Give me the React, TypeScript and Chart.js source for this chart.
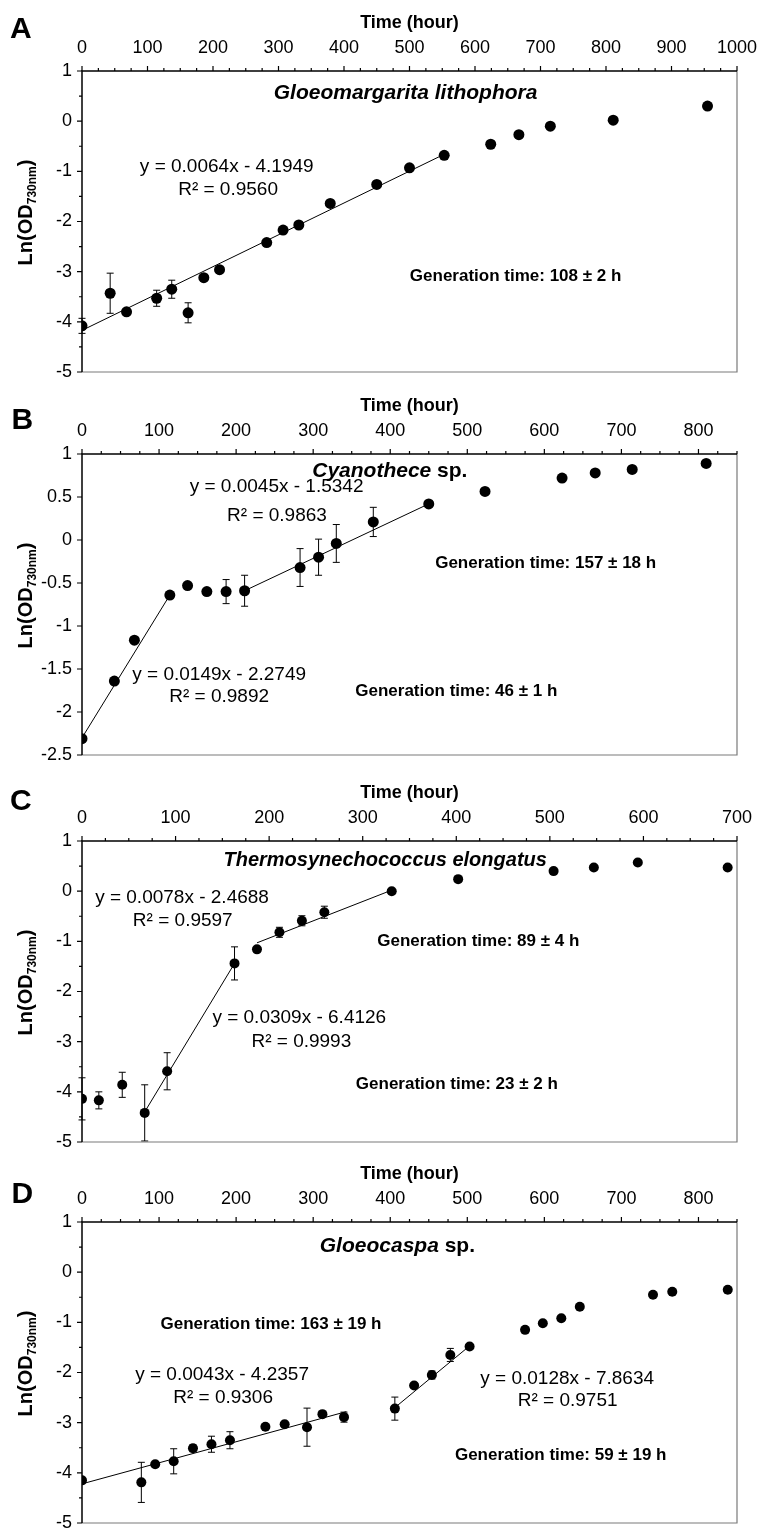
import React, { useEffect, useRef } from "react";
import { Chart, registerables } from "chart.js";

Chart.register(...registerables);

const FONT = "'Liberation Sans', Arial, Helvetica, sans-serif";

// ---------- Panel A: Gloeomargarita lithophora ----------
const timeA = [0, 43, 68, 114, 137, 162, 186, 210, 282, 307, 331, 379, 450, 500, 553, 624, 667, 715, 811, 955];
const lnOdA = [-4.08, -3.43, -3.8, -3.53, -3.35, -3.82, -3.12, -2.96, -2.42, -2.17, -2.07, -1.64, -1.26, -0.93, -0.68, -0.46, -0.27, -0.1, 0.02, 0.3];
const errA = [0.15, 0.4, 0, 0.16, 0.18, 0.2, 0, 0, 0, 0, 0, 0, 0, 0, 0, 0, 0, 0, 0, 0];
const fitA1X = [0, 553];
const fitA1Y = [-4.17, -0.66];

// ---------- Panel B: Cyanothece sp. ----------
const timeB = [0, 42, 68, 114, 137, 162, 187, 211, 283, 307, 330, 378, 450, 523, 623, 666, 714, 810];
const lnOdB = [-2.31, -1.64, -1.165, -0.64, -0.53, -0.6, -0.6, -0.59, -0.32, -0.2, -0.04, 0.21, 0.42, 0.565, 0.72, 0.78, 0.82, 0.89];
const errB = [0, 0, 0, 0, 0, 0, 0.14, 0.18, 0.22, 0.21, 0.22, 0.17, 0.03, 0, 0, 0.03, 0, 0];
const fitB1X = [0, 114];
const fitB1Y = [-2.3, -0.64];
const fitB2X = [211, 450];
const fitB2Y = [-0.59, 0.42];

// ---------- Panel C: Thermosynechococcus elongatus ----------
const timeC = [0, 18, 43, 67, 91, 163, 187, 211, 235, 259, 331, 402, 504, 547, 594, 690];
const lnOdC = [-4.14, -4.17, -3.86, -4.42, -3.59, -1.44, -1.16, -0.82, -0.59, -0.42, 0.0, 0.24, 0.4, 0.47, 0.57, 0.47];
const errC = [0.42, 0.17, 0.25, 0.56, 0.37, 0.33, 0, 0.1, 0.1, 0.12, 0.03, 0, 0, 0, 0, 0];
const fitC1X = [67, 163];
const fitC1Y = [-4.4, -1.44];
const fitC2X = [187, 331];
const fitC2Y = [-1.03, 0.02];

// ---------- Panel D: Gloeocaspa sp. ----------
const timeD = [0, 77, 95, 119, 144, 168, 192, 238, 263, 292, 312, 340, 406, 431, 454, 478, 503, 575, 598, 622, 646, 741, 766, 838];
const lnOdD = [-4.15, -4.19, -3.83, -3.77, -3.51, -3.43, -3.35, -3.08, -3.03, -3.09, -2.83, -2.89, -2.72, -2.26, -2.05, -1.65, -1.48, -1.15, -1.02, -0.92, -0.69, -0.45, -0.39, -0.35];
const errD = [0, 0.4, 0, 0.25, 0.07, 0.16, 0.17, 0, 0, 0.38, 0, 0.1, 0.23, 0, 0.08, 0.13, 0, 0, 0, 0, 0, 0, 0, 0];
const fitD1X = [0, 343];
const fitD1Y = [-4.22, -2.78];
const fitD2X = [406, 503];
const fitD2Y = [-2.7, -1.47];

// ---------- Text annotations (anchored in data coordinates) ----------
const titleA = [{ text: "Gloeomargarita lithophora", italic: true }];
const titleB = [{ text: "Cyanothece", italic: true }, { text: " sp.", italic: false }];
const titleC = [{ text: "Thermosynechococcus elongatus", italic: true }];
const titleD = [{ text: "Gloeocaspa", italic: true }, { text: " sp.", italic: false }];

const eqTextsA = ["y = 0.0064x - 4.1949", "R\u00b2 = 0.9560"];
const eqTextsB = ["y = 0.0045x - 1.5342", "R\u00b2 = 0.9863", "y = 0.0149x - 2.2749", "R\u00b2 = 0.9892"];
const eqTextsC = ["y = 0.0078x - 2.4688", "R\u00b2 = 0.9597", "y = 0.0309x - 6.4126", "R\u00b2 = 0.9993"];
const eqTextsD = ["y = 0.0043x - 4.2357", "R\u00b2 = 0.9306", "y = 0.0128x - 7.8634", "R\u00b2 = 0.9751"];
const eqAtA = [[221, -0.9], [223, -1.36]];
const eqAtB = [[252.5, 0.616], [253, 0.277], [178, -1.569], [178, -1.818]];
const eqAtC = [[106.9, -0.125], [107.7, -0.596], [232.2, -2.531], [234.4, -2.996]];
const eqAtD = [[181.8, -2.036], [183.1, -2.495], [629.6, -2.116], [630.2, -2.569]];

const genTextsA = ["Generation time: 108 \u00b1 2 h"];
const genTextsB = ["Generation time: 157 \u00b1 18 h", "Generation time: 46 \u00b1 1 h"];
const genTextsC = ["Generation time: 89 \u00b1 4 h", "Generation time: 23 \u00b1 2 h"];
const genTextsD = ["Generation time: 163 \u00b1 19 h", "Generation time: 59 \u00b1 19 h"];
const genAtA = [[662, -3.09]];
const genAtB = [[601.7, -0.272], [485.7, -1.76]];
const genAtC = [[423.5, -1.008], [400.6, -3.857]];
const genAtD = [[245.3, -1.038], [621.2, -3.647]];

const titleAtA = [494, 0.556];
const titleAtB = [399.5, 0.796];
const titleAtC = [324, 0.616];
const titleAtD = [409.3, 0.511];

type Part = { text: string; italic: boolean };
type PanelCfg = {
  letter: string;
  top: number;
  letterX: number;
  letterY: number;
  xMax: number;
  yMin: number;
  yMax: number;
  yStep: number;
  yMinor: number;
  radius: number;
  titleSize: number;
  time: number[];
  ln: number[];
  err: number[];
  fits: [number[], number[]][];
  title: Part[];
  titleAt: number[];
  eqTexts: string[];
  eqAt: number[][];
  genTexts: string[];
  genAt: number[][];
};

const PANELS: PanelCfg[] = [
  {
    letter: "A", top: 0, letterX: 10, letterY: 38, xMax: 1000, yMin: -5, yMax: 1, yStep: 1, yMinor: 0.5, radius: 5.5, titleSize: 21,
    time: timeA, ln: lnOdA, err: errA, fits: [[fitA1X, fitA1Y]],
    title: titleA, titleAt: titleAtA, eqTexts: eqTextsA, eqAt: eqAtA, genTexts: genTextsA, genAt: genAtA,
  },
  {
    letter: "B", top: 383, letterX: 11.5, letterY: 46, xMax: 850, yMin: -2.5, yMax: 1, yStep: 0.5, yMinor: 0, radius: 5.5, titleSize: 21,
    time: timeB, ln: lnOdB, err: errB, fits: [[fitB1X, fitB1Y], [fitB2X, fitB2Y]],
    title: titleB, titleAt: titleAtB, eqTexts: eqTextsB, eqAt: eqAtB, genTexts: genTextsB, genAt: genAtB,
  },
  {
    letter: "C", top: 770, letterX: 10, letterY: 40, xMax: 700, yMin: -5, yMax: 1, yStep: 1, yMinor: 0.5, radius: 5, titleSize: 20,
    time: timeC, ln: lnOdC, err: errC, fits: [[fitC1X, fitC1Y], [fitC2X, fitC2Y]],
    title: titleC, titleAt: titleAtC, eqTexts: eqTextsC, eqAt: eqAtC, genTexts: genTextsC, genAt: genAtC,
  },
  {
    letter: "D", top: 1151, letterX: 11.5, letterY: 52, xMax: 850, yMin: -5, yMax: 1, yStep: 1, yMinor: 0.5, radius: 5, titleSize: 21,
    time: timeD, ln: lnOdD, err: errD, fits: [[fitD1X, fitD1Y], [fitD2X, fitD2Y]],
    title: titleD, titleAt: titleAtD, eqTexts: eqTextsD, eqAt: eqAtD, genTexts: genTextsD, genAt: genAtD,
  },
];

const W = 757;
const H = 380;

function makeDecor(p: PanelCfg) {
  return {
    id: "decor" + p.letter,
    beforeDatasetsDraw(chart: any) {
      const { ctx, scales } = chart;
      const x = scales.x;
      const y = scales.y;
      ctx.save();
      ctx.strokeStyle = "#000";
      ctx.lineWidth = 1;
      p.time.forEach((t, i) => {
        const e = p.err[i];
        if (!e) return;
        const px = x.getPixelForValue(t);
        const y1 = y.getPixelForValue(p.ln[i] + e);
        const y2 = y.getPixelForValue(p.ln[i] - e);
        ctx.beginPath();
        ctx.moveTo(px, y1);
        ctx.lineTo(px, y2);
        ctx.moveTo(px - 3.5, y1);
        ctx.lineTo(px + 3.5, y1);
        ctx.moveTo(px - 3.5, y2);
        ctx.lineTo(px + 3.5, y2);
        ctx.stroke();
      });
      ctx.restore();
    },
    afterDraw(chart: any) {
      const { ctx, chartArea: a, scales } = chart;
      const x = scales.x;
      const y = scales.y;
      ctx.save();
      // frame (right and bottom, gray)
      ctx.strokeStyle = "#7a7a7a";
      ctx.lineWidth = 1.2;
      ctx.beginPath();
      ctx.moveTo(a.right, a.top);
      ctx.lineTo(a.right, a.bottom);
      ctx.lineTo(a.left, a.bottom);
      ctx.stroke();
      // axes (left and top, black)
      ctx.strokeStyle = "#000";
      ctx.lineWidth = 1.5;
      ctx.beginPath();
      ctx.moveTo(a.left, a.bottom);
      ctx.lineTo(a.left, a.top);
      ctx.lineTo(a.right, a.top);
      ctx.stroke();
      ctx.lineWidth = 1.2;
      ctx.beginPath();
      for (let v = 0; v <= p.xMax + 1e-6; v += 25) {
        const px = x.getPixelForValue(v);
        const len = v % 100 === 0 ? 5 : 3;
        ctx.moveTo(px, a.top);
        ctx.lineTo(px, a.top - len);
      }
      const nMaj = Math.round((p.yMax - p.yMin) / p.yStep);
      for (let k = 0; k <= nMaj; k++) {
        const v = p.yMin + k * p.yStep;
        const py = y.getPixelForValue(v);
        ctx.moveTo(a.left, py);
        ctx.lineTo(a.left - 5, py);
      }
      if (p.yMinor) {
        const nMin = Math.round((p.yMax - p.yMin) / p.yMinor);
        for (let k = 0; k <= nMin; k++) {
          const v = p.yMin + k * p.yMinor;
          if (Math.abs(v / p.yStep - Math.round(v / p.yStep)) < 1e-6) continue;
          const py = y.getPixelForValue(v);
          ctx.moveTo(a.left, py);
          ctx.lineTo(a.left - 3, py);
        }
      }
      ctx.stroke();

      ctx.fillStyle = "#000";
      // panel letter
      ctx.font = `bold 30px ${FONT}`;
      ctx.textAlign = "left";
      ctx.textBaseline = "alphabetic";
      ctx.fillText(p.letter, p.letterX, p.letterY);

      // y axis title with subscript
      const cy = (a.top + a.bottom) / 2 - 9;
      ctx.save();
      ctx.translate(32, cy);
      ctx.rotate(-Math.PI / 2);
      ctx.font = `bold 20px ${FONT}`;
      const m1 = "Ln(OD";
      const m2 = ")";
      const w1 = ctx.measureText(m1).width;
      const w3 = ctx.measureText(m2).width;
      ctx.font = `bold 12px ${FONT}`;
      const sub = "730nm";
      const w2 = ctx.measureText(sub).width;
      let tx = -(w1 + w2 + w3) / 2;
      ctx.textAlign = "left";
      ctx.font = `bold 20px ${FONT}`;
      ctx.fillText(m1, tx, 0);
      tx += w1;
      ctx.font = `bold 12px ${FONT}`;
      ctx.fillText(sub, tx, 4);
      tx += w2;
      ctx.font = `bold 20px ${FONT}`;
      ctx.fillText(m2, tx, 0);
      ctx.restore();

      // species title
      ctx.textBaseline = "middle";
      ctx.textAlign = "left";
      const fontFor = (it: boolean) => `${it ? "italic " : ""}bold ${p.titleSize}px ${FONT}`;
      let totalW = 0;
      p.title.forEach((pt) => {
        ctx.font = fontFor(pt.italic);
        totalW += ctx.measureText(pt.text).width;
      });
      let sx = x.getPixelForValue(p.titleAt[0]) - totalW / 2;
      const sy = y.getPixelForValue(p.titleAt[1]);
      p.title.forEach((pt) => {
        ctx.font = fontFor(pt.italic);
        ctx.fillText(pt.text, sx, sy);
        sx += ctx.measureText(pt.text).width;
      });

      // equations
      ctx.textAlign = "center";
      ctx.font = `19px ${FONT}`;
      p.eqTexts.forEach((t, i) => {
        ctx.fillText(t, x.getPixelForValue(p.eqAt[i][0]), y.getPixelForValue(p.eqAt[i][1]));
      });
      // generation times
      ctx.font = `bold 17px ${FONT}`;
      p.genTexts.forEach((t, i) => {
        ctx.fillText(t, x.getPixelForValue(p.genAt[i][0]), y.getPixelForValue(p.genAt[i][1]));
      });
      ctx.restore();
    },
  };
}

function PanelChart({ cfg }: { cfg: PanelCfg }) {
  const ref = useRef<HTMLCanvasElement | null>(null);
  useEffect(() => {
    if (!ref.current) return;
    const points = cfg.time.map((t, i) => ({ x: t, y: cfg.ln[i] }));
    const fitSets = cfg.fits.map(([xs, ys]) => ({
      data: xs.map((v, i) => ({ x: v, y: ys[i] })),
      showLine: true,
      borderColor: "#000",
      borderWidth: 1,
      pointRadius: 0,
      fill: false,
    }));
    const chart = new Chart(ref.current, {
      type: "scatter",
      data: {
        datasets: [
          {
            data: points,
            pointRadius: cfg.radius,
            pointBackgroundColor: "#000",
            pointBorderColor: "#000",
            pointBorderWidth: 0,
            showLine: false,
          } as any,
          ...(fitSets as any[]),
        ],
      },
      options: {
        animation: false,
        responsive: false,
        maintainAspectRatio: false,
        events: [],
        layout: { padding: { left: 0, right: 20, top: 0, bottom: 8 } },
        plugins: { legend: { display: false }, tooltip: { enabled: false }, title: { display: false } },
        scales: {
          x: {
            type: "linear",
            position: "top",
            min: 0,
            max: cfg.xMax,
            ticks: {
              stepSize: 100,
              includeBounds: false,
              padding: 12,
              color: "#000",
              maxRotation: 0,
              autoSkip: false,
              font: { family: FONT, size: 18 },
              callback: (v: any) => String(v),
            },
            grid: { display: false, drawTicks: false },
            border: { display: false },
            title: {
              display: true,
              text: "Time (hour)",
              color: "#000",
              font: { family: FONT, size: 18, weight: "bold" },
              padding: { top: 12, bottom: 0 },
            },
            afterFit: (s: any) => {
              s.height = 71;
              s.paddingLeft = 0;
              s.paddingRight = 0;
            },
          } as any,
          y: {
            type: "linear",
            position: "left",
            min: cfg.yMin,
            max: cfg.yMax,
            ticks: {
              stepSize: cfg.yStep,
              includeBounds: false,
              padding: 10,
              color: "#000",
              font: { family: FONT, size: 18 },
              callback: (v: any) => String(Math.round(v * 100) / 100),
            },
            grid: { display: false, drawTicks: false },
            border: { display: false },
            afterFit: (s: any) => {
              s.width = 82;
              s.paddingTop = 0;
              s.paddingBottom = 0;
            },
          } as any,
        },
      },
      plugins: [makeDecor(cfg)],
    });
    return () => chart.destroy();
  }, [cfg]);
  return (
    <canvas
      ref={ref}
      width={W}
      height={H}
      style={{ position: "absolute", left: 0, top: cfg.top, width: W, height: H }}
    />
  );
}

export default function App() {
  return (
    <div style={{ position: "absolute", left: 0, top: 0, width: W, height: 1531, background: "#fff" }}>
      {PANELS.map((p) => (
        <PanelChart key={p.letter} cfg={p} />
      ))}
    </div>
  );
}
